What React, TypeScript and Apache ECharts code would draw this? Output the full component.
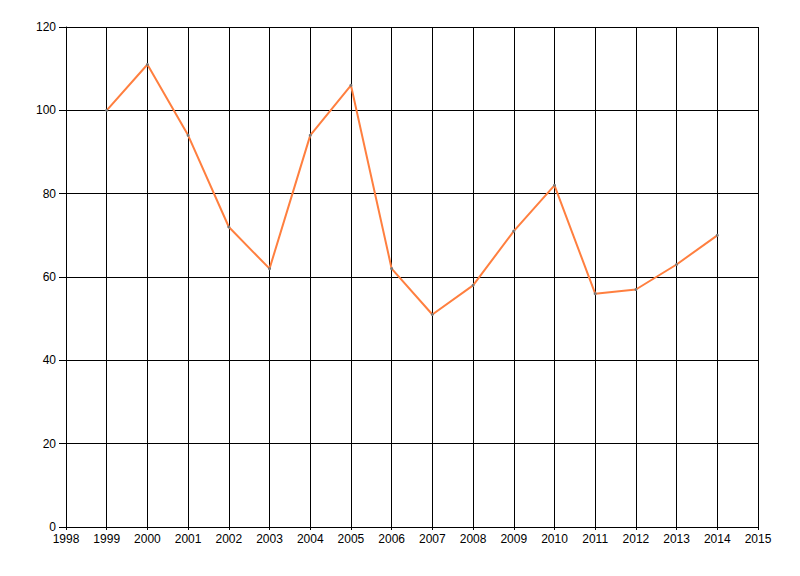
import React, { useEffect, useRef } from "react";
import * as echarts from "echarts";

const years = [1999, 2000, 2001, 2002, 2003, 2004, 2005, 2006, 2007, 2008, 2009, 2010, 2011, 2012, 2013, 2014];
const values = [100, 111, 94, 72, 62, 94, 106, 62, 51, 58, 71, 82, 56, 57, 63, 70];
const xMin = 1998;
const xMax = 2015;
const yMin = 0;
const yMax = 120;
const yStep = 20;

export default function App() {
  const ref = useRef<HTMLDivElement>(null);
  useEffect(() => {
    if (!ref.current) return;
    const chart = echarts.init(ref.current, undefined, { renderer: "svg" });
    const font = "'Liberation Sans', Arial, sans-serif";
    chart.setOption({
      animation: false,
      backgroundColor: "#ffffff",
      grid: { left: 66, right: 42, top: 27, bottom: 49, containLabel: false },
      xAxis: {
        type: "value",
        min: xMin,
        max: xMax,
        interval: 1,
        axisLine: { show: true, lineStyle: { color: "#000", width: 1 } },
        axisTick: { show: true, length: 3, lineStyle: { color: "#000" } },
        axisLabel: {
          color: "#000",
          fontSize: 12,
          fontFamily: font,
          margin: 6,
          formatter: (v: number) => String(v),
        },
        splitLine: { show: true, lineStyle: { color: "#000", width: 1 } },
      },
      yAxis: {
        type: "value",
        min: yMin,
        max: yMax,
        interval: yStep,
        axisLine: { show: true, lineStyle: { color: "#000", width: 1 } },
        axisTick: { show: true, length: 7, lineStyle: { color: "#000" } },
        axisLabel: { color: "#000", fontSize: 12, fontFamily: font, margin: 10 },
        splitLine: { show: true, lineStyle: { color: "#000", width: 1 } },
      },
      series: [
        {
          type: "line",
          data: years.map((y, i) => [y, values[i]]),
          lineStyle: { color: "#FF7F3F", width: 2 },
          itemStyle: { color: "#777" },
          symbol: "circle",
          symbolSize: 3,
          showSymbol: true,
        },
      ],
    });
    return () => chart.dispose();
  }, []);
  return (
    <div
      ref={ref}
      style={{ position: "fixed", left: 0, top: 0, width: 800, height: 576, background: "#fff" }}
    />
  );
}
